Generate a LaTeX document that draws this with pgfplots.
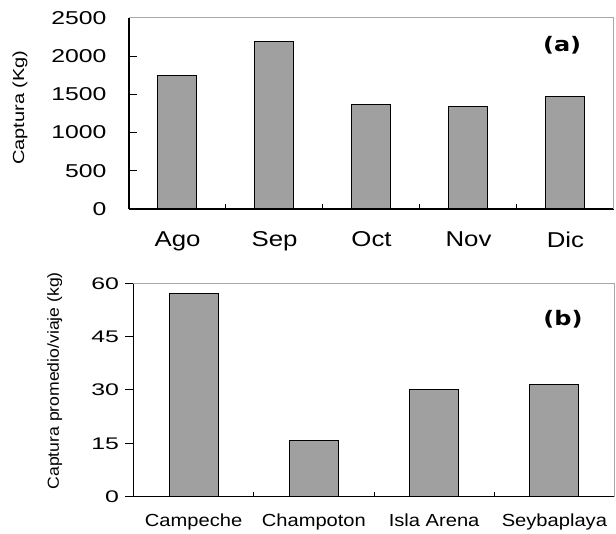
\documentclass[border=0pt]{standalone}
\usepackage{pgfplots}
\pgfplotsset{compat=1.18}
\usepackage{fontspec}
\setmainfont{Liberation Sans}
\newfontfamily\tickA[FakeStretch=1.33]{Liberation Sans}
\newfontfamily\tickB[FakeStretch=1.48]{Liberation Sans}
\newfontfamily\catA[FakeStretch=1.2]{Liberation Sans}
\newfontfamily\catB[FakeStretch=1.15]{Liberation Sans}
\newfontfamily\labA[FakeStretch=1.25]{Liberation Sans}
\newfontfamily\labB[FakeStretch=1.1]{Liberation Sans}
\newfontfamily\verdB[FakeStretch=1.2]{DejaVu Sans}
\definecolor{barg}{HTML}{A0A0A0}
\definecolor{frameg}{HTML}{A8A8A8}
\pgfplotsset{
  common/.style={
    scale only axis,
    axis lines=left,
    axis line style={-,black,line width=1.3pt},
    ybar,
    /pgf/number format/assume math mode=true,
    /pgf/number format/1000 sep={},
    major tick length=8pt,
    minor tick length=5pt,
    ytick pos=left,
    xtick pos=bottom,
    major x tick style={draw=none},
    every tick/.style={black,line width=1pt},
    ymin=0,
    clip=false,
    xmin=0.5,
  }
}
\begin{document}
\begin{tikzpicture}
\path (0,0) rectangle (616pt,529pt);
\begin{axis}[common,
  tick align=inside,
  at={(129pt,320pt)}, anchor=south west,
  width=485pt, height=191pt,
  xmax=5.5, ymax=2500,
  ytick={0,500,1000,1500,2000,2500},
  xtick={1,2,3,4,5},
  xticklabels={Ago,Sep,Oct,Nov,Dic},
  minor xtick={1.5,2.5,3.5,4.5},
  minor x tick style={black,line width=1pt},
  y tick label style={font=\tickA\fontsize{18.6}{20}\selectfont, xshift=-19pt},
  x tick label style={font=\catA\fontsize{21.5}{23}\selectfont, yshift=-19pt},
  bar width=39pt,
  ylabel={\labA\fontsize{16}{18}\selectfont Captura (Kg)},
  every axis y label/.style={at={(axis description cs:-0.225,0.531)},rotate=90,anchor=center},
]
\addplot[fill=barg,draw=black,line width=1pt] coordinates {(1,1744) (2,2190) (3,1372) (4,1342) (5,1469)};
\draw[frameg,line width=1pt] (rel axis cs:0,1) -- (rel axis cs:1,1) -- (rel axis cs:1,0);
\node[font=\verdB\bfseries\fontsize{20}{22}\selectfont] at (rel axis cs:0.893,0.86) {(a)};
\end{axis}
\begin{axis}[common,
  tick align=outside,
  at={(133.5pt,32.3pt)}, anchor=south west,
  width=481pt, height=213.4pt,
  xmax=4.5, ymax=60,
  ytick={0,15,30,45,60},
  xtick={1,2,3,4},
  xticklabels={Campeche,Champoton,Isla Arena,Seybaplaya},
  minor xtick={1.5,2.5,3.5},
  minor x tick style={yshift=5pt,black,line width=1pt},
  y tick label style={font=\tickB\fontsize{16.8}{18}\selectfont, xshift=-3pt},
  x tick label style={font=\catB\fontsize{17.5}{19}\selectfont, yshift=-6pt},
  bar width=49pt,
  ylabel={\labB\fontsize{16}{18}\selectfont Captura promedio/viaje (kg)},
  every axis y label/.style={at={(axis description cs:-0.1635,0.543)},rotate=90,anchor=center},
]
\addplot[fill=barg,draw=black,line width=1pt] coordinates {(1,57.0) (2,15.8) (3,30.0) (4,31.6)};
\draw[frameg,line width=1pt] (rel axis cs:0,1) -- (rel axis cs:1,1) -- (rel axis cs:1,0);
\node[font=\verdB\bfseries\fontsize{20}{22}\selectfont] at (rel axis cs:0.893,0.83) {(b)};
\end{axis}
\end{tikzpicture}
\end{document}
